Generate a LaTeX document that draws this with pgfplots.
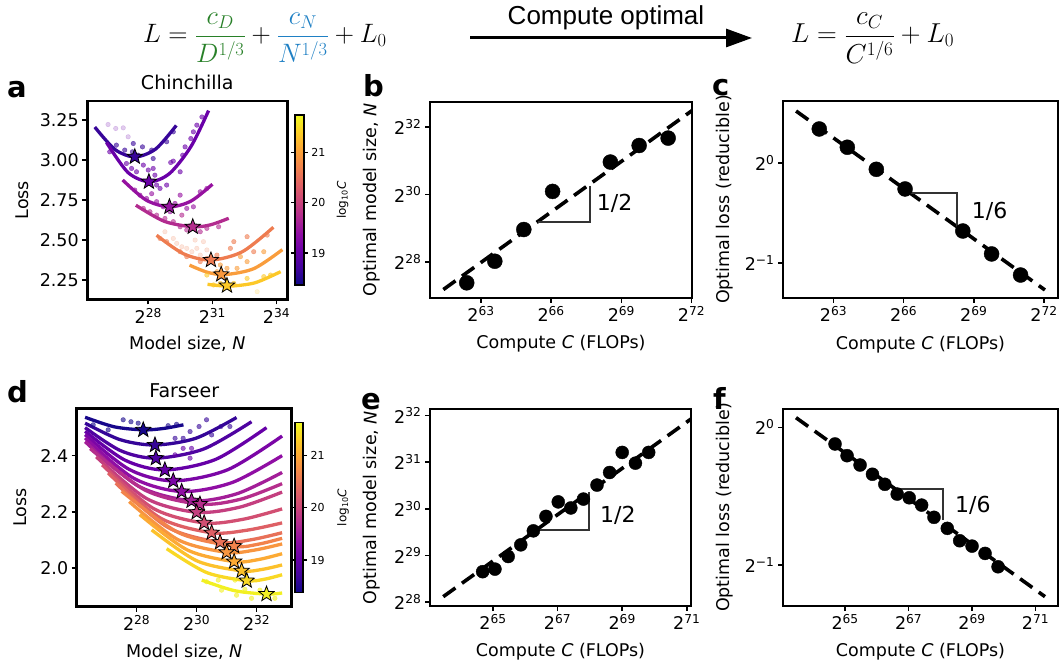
\documentclass[border=0pt]{standalone}
\usepackage{fontspec}
\setmainfont{DejaVu Sans}
\newfontfamily\libsans{Liberation Sans}
\usepackage{pgfplots}
\pgfplotsset{compat=1.18}
\usetikzlibrary{arrows.meta}
\pgfplotsset{/pgf/number format/assume math mode=true}

\definecolor{fgreen}{RGB}{40,128,40}
\definecolor{fblue}{RGB}{31,128,196}
\definecolor{pa1}{RGB}{55,5,153}
\definecolor{pa2}{RGB}{106,0,168}
\definecolor{pa3}{RGB}{150,18,160}
\definecolor{pa4}{RGB}{178,43,143}
\definecolor{pa5}{RGB}{238,124,80}
\definecolor{pa6}{RGB}{249,157,60}
\definecolor{pa7}{RGB}{252,200,40}
\definecolor{dk1}{RGB}{23,7,139}
\definecolor{dk2}{RGB}{53,5,152}
\definecolor{dk3}{RGB}{79,3,161}
\definecolor{dk4}{RGB}{102,0,167}
\definecolor{dk5}{RGB}{123,6,166}
\definecolor{dk6}{RGB}{144,14,164}
\definecolor{dk7}{RGB}{163,30,152}
\definecolor{dk8}{RGB}{181,46,140}
\definecolor{dk9}{RGB}{196,63,127}
\definecolor{dk10}{RGB}{210,79,114}
\definecolor{dk11}{RGB}{222,96,101}
\definecolor{dk12}{RGB}{232,113,89}
\definecolor{dk13}{RGB}{242,131,75}
\definecolor{dk14}{RGB}{248,150,64}
\definecolor{dk15}{RGB}{252,170,52}
\definecolor{dk16}{RGB}{252,193,43}
\definecolor{dk17}{RGB}{249,216,36}
\definecolor{dk18}{RGB}{242,240,33}

\pgfplotsset{colormap={plasma}{rgb255=(13,8,135) rgb255=(65,4,157) rgb255=(106,0,168) rgb255=(143,13,164) rgb255=(177,42,144) rgb255=(204,71,120) rgb255=(225,100,98) rgb255=(242,132,75) rgb255=(252,166,54) rgb255=(252,206,37) rgb255=(240,249,33)}}

\pgfdeclareplotmark{fstar}{%
  \pgfpathmoveto{\pgfpointpolar{90}{\pgfplotmarksize}}%
  \pgfpathlineto{\pgfpointpolar{126}{0.42\pgfplotmarksize}}%
  \pgfpathlineto{\pgfpointpolar{162}{\pgfplotmarksize}}%
  \pgfpathlineto{\pgfpointpolar{198}{0.42\pgfplotmarksize}}%
  \pgfpathlineto{\pgfpointpolar{234}{\pgfplotmarksize}}%
  \pgfpathlineto{\pgfpointpolar{270}{0.42\pgfplotmarksize}}%
  \pgfpathlineto{\pgfpointpolar{306}{\pgfplotmarksize}}%
  \pgfpathlineto{\pgfpointpolar{342}{0.42\pgfplotmarksize}}%
  \pgfpathlineto{\pgfpointpolar{18}{\pgfplotmarksize}}%
  \pgfpathlineto{\pgfpointpolar{54}{0.42\pgfplotmarksize}}%
  \pgfpathclose
  \pgfusepathqfillstroke}

\pgfplotsset{
  panel/.style={scale only axis, anchor=south west, clip=true,
    axis line style={line width=2.6pt}, tick pos=left, tick align=outside,
    major tick length=5pt, major tick style={line width=1.6pt, black},
    tick label style={font=\fontsize{17.5}{17.5}\selectfont},
    label style={font=\fontsize{17.5}{17.5}\selectfont},
    xlabel style={anchor=center}, ylabel style={anchor=center},
    title style={font=\fontsize{19}{19}\selectfont, anchor=base, at={(axis description cs:0.5,1)}}},
  cbar/.style n args={3}{colorbar style={at={(parent axis.east)}, anchor=west, xshift=#1,
    scale only axis, width=#2, height=170pt,
    ytick={19,20,21}, yticklabel style={font=\fontsize{11}{11}\selectfont},
    axis line style={line width=1.6pt}, tick align=outside, major tick length=4pt,
    major tick style={line width=1.2pt, black},
    ylabel={log\textsubscript{10}\textit{C}},
    ylabel style={font=\fontsize{12}{12}\selectfont, at={(axis description cs:#3,0.5)}, anchor=center}}},
  dots/.style={only marks, mark=*, mark size=2.3pt, color=#1, opacity=0.6},
  fdots/.style={only marks, mark=*, mark size=2.3pt, color=#1, opacity=0.2},
  fit/.style={smooth, line width=3.3pt, color=#1},
  stars/.style={scatter, only marks, mark=fstar, mark size=8pt, point meta=explicit,
    scatter/use mapped color={draw=black, fill=mapped color}, mark options={line width=0.8pt}},
  dash/.style={black, line width=3.6pt, dash pattern=on 15pt off 8pt},
  tri/.style={line width=2pt, color=black!80},
}
\newcommand{\fnum}[1]{#1\rule[-4pt]{0pt}{4pt}}
\newcommand{\fden}[1]{\rule{0pt}{24pt}#1}

\begin{document}
\begin{tikzpicture}[x=1pt,y=1pt]
\path[use as bounding box] (0,0) rectangle (1060,667);

% ---------- header ----------
\node[anchor=west, inner sep=0, scale=1.07, font=\fontsize{25}{25}\selectfont] at (143,629)
  {$L = {\color{fgreen}\displaystyle\frac{\fnum{c_D}}{\fden{D^{1/3}}}} + {\color{fblue}\displaystyle\frac{\fnum{c_N}}{\fden{N^{1/3}}}} + L_0$};
\draw[line width=3pt, -{Triangle[length=26pt,width=18pt]}] (470,629) -- (752,629);
\node[font=\libsans\fontsize{26}{26}\selectfont] at (606,649) {Compute optimal};
\node[anchor=west, inner sep=0, scale=1.1, font=\fontsize{25}{25}\selectfont] at (791,629)
  {$L = \displaystyle\frac{\fnum{c_C}}{\fden{C^{1/6}}} + L_0$};

% ---------- panel letters ----------
\node[anchor=base west, inner sep=0, font=\bfseries\fontsize{29}{29}\selectfont] at (7,569) {a};
\node[anchor=base west, inner sep=0, font=\bfseries\fontsize{29}{29}\selectfont] at (363,570) {b};
\node[anchor=base west, inner sep=0, font=\bfseries\fontsize{29}{29}\selectfont] at (712,571) {c};
\node[anchor=base west, inner sep=0, font=\bfseries\fontsize{29}{29}\selectfont] at (7,264) {d};
\node[anchor=base west, inner sep=0, font=\bfseries\fontsize{29}{29}\selectfont] at (361,257) {e};
\node[anchor=base west, inner sep=0, font=\bfseries\fontsize{29}{29}\selectfont] at (713,257) {f};

% ---------- a ----------
\begin{axis}[panel, at={(87.3pt,367.5pt)}, width=200pt, height=198.5pt,
  xmin=25.15, xmax=34.5, ymin=2.128, ymax=3.37,
  xtick={28,31,34}, xticklabels={2\textsuperscript{28},2\textsuperscript{31},2\textsuperscript{34}},
  ytick={2.25,2.5,2.75,3,3.25}, yticklabels={2.25,2.50,2.75,3.00,3.25},
  xlabel={Model size, \textit{N}}, ylabel={Loss},
  xlabel style={at={(axis description cs:0.5,-0.224)}},
  ylabel style={at={(axis description cs:-0.327,0.5)}},
  title={Chinchilla}, title style={yshift=5pt},
  colorbar, colormap name=plasma, point meta min=18.36, point meta max=21.74,
  cbar={-1pt}{9pt}{5.3}]
\addplot[fdots=pa2] coordinates {(26.12,3.223) (26.48,3.198) (26.83,3.202) (27.06,3.146)};
\addplot[fdots=pa5] coordinates {(29.57,2.458) (29.8,2.448) (30.04,2.427) (30.27,2.448) (30.58,2.49) (29.17,2.51) (29.33,2.479) (30.43,2.406) (30.19,2.5) (28.78,2.552) (30.74,2.438)};
\addplot[fdots=pa7] coordinates {(33.09,2.177)};
\addplot[dots=pa1] coordinates {(26.51,3.094) (26.9,3.063) (27.26,3.052) (27.53,3.031) (27.73,3.083) (28.16,3.063) (28.23,3.01) (28.86,3.115) (29.17,3.177) (27.3,3.104)};
\addplot[dots=pa2] coordinates {(26.98,2.979) (27.22,2.948) (27.45,2.927) (27.77,2.969) (28.0,2.938) (28.23,2.948) (28.31,2.906) (28.55,2.823) (28.86,2.844) (29.05,2.985) (29.17,2.994) (29.49,2.927) (29.61,3.031) (29.72,3.083) (29.99,3.135) (30.11,3.177) (30.27,3.219) (30.51,3.27) (28.39,2.844) (26.2,3.052)};
\addplot[dots=pa3] coordinates {(27.37,2.813) (27.61,2.781) (27.92,2.76) (28.16,2.79) (28.39,2.74) (28.7,2.708) (29.02,2.677) (29.25,2.729) (29.49,2.781) (29.8,2.698) (30.11,2.708) (30.43,2.802) (30.74,2.823)};
\addplot[dots=pa4] coordinates {(27.77,2.698) (28.08,2.677) (28.39,2.656) (28.78,2.635) (29.17,2.615) (29.49,2.583) (29.8,2.563) (30.43,2.552) (30.74,2.573) (31.29,2.583) (29.57,2.656)};
\addplot[dots=pa5] coordinates {(28.55,2.51) (28.86,2.49) (29.49,2.427) (29.8,2.396) (30.43,2.365) (30.74,2.385) (31.21,2.406) (31.84,2.448) (32.62,2.521) (32.0,2.49) (32.93,2.427) (33.56,2.531)};
\addplot[dots=pa6] coordinates {(31.37,2.344) (31.68,2.323) (32.15,2.323) (32.62,2.365) (33.4,2.427) (31.21,2.302) (32.31,2.396)};
\addplot[dots=pa7] coordinates {(30.74,2.281) (31.05,2.219) (32.0,2.229) (32.62,2.26) (33.4,2.271) (33.72,2.281) (31.37,2.229)};
\addplot[fit=pa1] coordinates {(25.5,3.207) (26.45,3.066) (27.38,3.02) (28.35,3.07) (29.31,3.217)};
\addplot[fit=pa2] coordinates {(26.05,3.11) (27.05,2.923) (28.05,2.865) (29.0,2.917) (30.0,3.086) (30.82,3.31)};
\addplot[fit=pa3] coordinates {(26.8,2.876) (27.9,2.75) (28.99,2.708) (30.0,2.744) (31.0,2.849)};
\addplot[fit=pa4] coordinates {(27.42,2.718) (28.75,2.617) (30.09,2.583) (30.9,2.595) (31.76,2.636)};
\addplot[fit=pa5] coordinates {(28.39,2.53) (29.65,2.414) (30.93,2.375) (32.4,2.427) (33.85,2.58)};
\addplot[fit=pa6] coordinates {(29.93,2.343) (30.75,2.299) (31.6,2.284) (32.95,2.322) (34.27,2.44)};
\addplot[fit=pa7] coordinates {(30.77,2.223) (31.3,2.215) (31.9,2.212) (33.0,2.233) (34.19,2.302)};
\addplot[stars] table[meta=c] {
x y c
27.37 3.021 18.63
28.03 2.865 19.04
28.99 2.708 19.45
30.08 2.583 19.75
30.93 2.375 20.62
31.41 2.285 20.93
31.68 2.215 21.37
};
\end{axis}

% ---------- b ----------
\begin{axis}[panel, at={(430pt,369pt)}, width=262pt, height=196pt,
  xmin=60.82, xmax=72.02, ymin=26.93, ymax=32.74,
  xtick={63,66,69,72}, xticklabels={2\textsuperscript{63},2\textsuperscript{66},2\textsuperscript{69},2\textsuperscript{72}},
  ytick={28,30,32}, yticklabels={2\textsuperscript{28},2\textsuperscript{30},2\textsuperscript{32}},
  xlabel={Compute \textit{C} (FLOPs)}, ylabel={Optimal model size, \textit{N}},
  xlabel style={at={(axis description cs:0.5,-0.235)}},
  ylabel style={at={(axis description cs:-0.223,0.5)}}]
\addplot[dash] coordinates {(61.39,27.18) (72.07,32.51)};
\addplot[only marks, mark=*, mark size=7.5pt, black] coordinates {(62.39,27.38) (63.59,28.02) (64.83,28.96) (66.06,30.09) (68.53,30.96) (69.76,31.45) (71.00,31.67)};
\addplot[tri] coordinates {(65.45,29.17) (67.66,29.17) (67.66,30.24)};
\node[anchor=west, font=\fontsize{22}{22}\selectfont, inner sep=0] at (axis cs:67.95,29.75) {1/2};
\end{axis}

% ---------- c ----------
\begin{axis}[panel, at={(783pt,369pt)}, width=275pt, height=197pt,
  xmin=60.84, xmax=72.6, ymin=-1.346, ymax=0.618,
  xtick={63,66,69,72}, xticklabels={2\textsuperscript{63},2\textsuperscript{66},2\textsuperscript{69},2\textsuperscript{72}},
  ytick={-1,0}, yticklabels={2\textsuperscript{−1},2\textsuperscript{0}},
  xlabel={Compute \textit{C} (FLOPs)}, ylabel={Optimal loss (reducible)},
  xlabel style={at={(axis description cs:0.5,-0.235)}},
  ylabel style={at={(axis description cs:-0.211,0.5)}}]
\addplot[dash] coordinates {(61.4,0.518) (72.04,-1.266)};
\addplot[only marks, mark=*, mark size=7.5pt, black] coordinates {(62.39,0.339) (63.59,0.157) (64.83,-0.063) (66.06,-0.259) (68.53,-0.678) (69.76,-0.907) (71.00,-1.117)};
\addplot[tri] coordinates {(66.27,-0.302) (68.27,-0.302) (68.27,-0.651)};
\node[anchor=west, font=\fontsize{22}{22}\selectfont, inner sep=0] at (axis cs:68.91,-0.486) {1/6};
\end{axis}

% ---------- d ----------
\begin{axis}[panel, at={(76.7pt,60.3pt)}, width=215pt, height=198.4pt,
  xmin=26.0, xmax=33.17, ymin=1.861, ymax=2.569,
  xtick={28,30,32}, xticklabels={2\textsuperscript{28},2\textsuperscript{30},2\textsuperscript{32}},
  ytick={2.0,2.2,2.4}, yticklabels={2.0,2.2,2.4},
  xlabel={Model size, \textit{N}}, ylabel={Loss},
  xlabel style={at={(axis description cs:0.5,-0.228)}},
  ylabel style={at={(axis description cs:-0.264,0.5)}},
  title={Farseer}, title style={yshift=5pt},
  colorbar, colormap name=plasma, point meta min=18.38, point meta max=21.63,
  cbar={-5.2pt}{8pt}{6.0}]
\addplot[dots=dk1] coordinates {(27.55,2.528) (27.81,2.521) (28.05,2.516) (27.05,2.492) (26.55,2.51) (29.05,2.507) (29.33,2.512)};
\addplot[dots=dk2] coordinates {(29.78,2.486) (30.08,2.504) (30.33,2.528) (30.81,2.504) (31.11,2.504) (30.5,2.474) (29.28,2.462) (29.55,2.462)};
\addplot[dots=dk4] coordinates {(29.55,2.426) (29.83,2.426) (29.78,2.391) (29.28,2.403)};
\addplot[dots=dk18] coordinates {(30.33,1.95) (30.83,1.92) (31.33,1.902) (31.83,1.891) (31.61,1.923) (32.11,1.92) (32.61,1.891) (31.28,1.956) (30.72,1.956)};
\addplot[fit=dk1] coordinates {(26.28,2.537) (27.25,2.503) (28.22,2.492) (28.89,2.497) (29.56,2.51)};
\addplot[fit=dk2] coordinates {(26.28,2.516) (27.45,2.457) (28.61,2.438) (29.97,2.462) (31.33,2.536)};
\addplot[fit=dk3] coordinates {(26.28,2.50) (27.46,2.418) (28.64,2.391) (30.24,2.424) (31.83,2.521)};
\addplot[fit=dk4] coordinates {(26.28,2.487) (27.61,2.384) (28.94,2.349) (30.64,2.387) (32.33,2.50)};
\addplot[fit=dk5] coordinates {(26.28,2.475) (27.75,2.351) (29.22,2.310) (31.04,2.350) (32.85,2.47)};
\addplot[fit=dk6] coordinates {(26.28,2.463) (27.89,2.32) (29.50,2.272) (31.18,2.304) (32.85,2.40)};
\addplot[fit=dk7] coordinates {(26.28,2.45) (28.05,2.292) (29.83,2.239) (31.34,2.264) (32.85,2.34)};
\addplot[fit=dk8] coordinates {(26.45,2.425) (28.28,2.277) (30.11,2.227) (31.48,2.245) (32.85,2.30)};
\addplot[fit=dk9] coordinates {(26.65,2.396) (28.33,2.247) (30.0,2.198) (31.43,2.216) (32.85,2.27)};
\addplot[fit=dk10] coordinates {(26.85,2.367) (28.55,2.212) (30.25,2.160) (31.55,2.173) (32.85,2.21)};
\addplot[fit=dk11] coordinates {(27.05,2.338) (28.78,2.178) (30.5,2.125) (31.68,2.134) (32.85,2.16)};
\addplot[fit=dk12] coordinates {(27.3,2.302) (29.04,2.144) (30.78,2.091) (31.82,2.100) (32.85,2.125)};
\addplot[fit=dk13] coordinates {(27.5,2.273) (29.38,2.126) (31.25,2.077) (32.05,2.084) (32.85,2.105)};
\addplot[fit=dk14] coordinates {(27.75,2.236) (29.38,2.10) (31.0,2.055) (31.93,2.063) (32.85,2.085)};
\addplot[fit=dk15] coordinates {(28.1,2.19) (29.68,2.064) (31.25,2.022) (32.05,2.029) (32.85,2.05)};
\addplot[fit=dk16] coordinates {(28.5,2.135) (30.0,2.025) (31.5,1.989) (32.18,1.994) (32.85,2.01)};
\addplot[fit=dk17] coordinates {(29.0,2.068) (30.33,1.983) (31.67,1.954) (32.26,1.959) (32.85,1.975)};
\addplot[fit=dk18] coordinates {(30.17,1.956) (31.25,1.9185) (32.33,1.906) (32.85,1.91)};
\addplot[stars] table[meta=c] {
x y c
28.22 2.492 18.445
28.61 2.438 18.629
28.64 2.391 18.812
28.94 2.349 18.996
29.22 2.310 19.18
29.50 2.272 19.363
29.83 2.239 19.547
30.11 2.227 19.73
30.00 2.198 19.914
30.25 2.160 20.098
30.50 2.125 20.281
30.78 2.091 20.465
31.25 2.077 20.649
31.00 2.055 20.832
31.25 2.022 21.016
31.50 1.989 21.199
31.67 1.954 21.383
32.33 1.906 21.567
};
\end{axis}

% ---------- e ----------
\begin{axis}[panel, at={(430pt,61pt)}, width=261pt, height=197pt,
  xmin=63.05, xmax=71.13, ymin=27.92, ymax=32.14,
  xtick={65,67,69,71}, xticklabels={2\textsuperscript{65},2\textsuperscript{67},2\textsuperscript{69},2\textsuperscript{71}},
  ytick={28,29,30,31,32}, yticklabels={2\textsuperscript{28},2\textsuperscript{29},2\textsuperscript{30},2\textsuperscript{31},2\textsuperscript{32}},
  xlabel={Compute \textit{C} (FLOPs)}, ylabel={Optimal model size, \textit{N}},
  xlabel style={at={(axis description cs:0.5,-0.234)}},
  ylabel style={at={(axis description cs:-0.223,0.5)}}]
\addplot[dash] coordinates {(63.46,28.12) (71.2,31.96)};
\addplot[only marks, mark=*, mark size=6.5pt, black] coordinates {(64.68,28.655) (65.06,28.71) (65.47,28.98) (65.86,29.23) (66.25,29.53) (66.64,29.84) (67.02,30.15) (67.41,30.02) (67.80,30.21) (68.22,30.51) (68.61,30.78) (69.00,31.21) (69.41,30.98) (69.82,31.21)};
\addplot[tri] coordinates {(66.35,29.55) (67.98,29.55) (67.98,30.36)};
\node[anchor=west, font=\fontsize{22}{22}\selectfont, inner sep=0] at (axis cs:68.31,29.87) {1/2};
\end{axis}

% ---------- f ----------
\begin{axis}[panel, at={(783pt,61pt)}, width=275pt, height=197pt,
  xmin=63.04, xmax=71.71, ymin=-1.298, ymax=0.133,
  xtick={65,67,69,71}, xticklabels={2\textsuperscript{65},2\textsuperscript{67},2\textsuperscript{69},2\textsuperscript{71}},
  ytick={-1,0}, yticklabels={2\textsuperscript{−1},2\textsuperscript{0}},
  xlabel={Compute \textit{C} (FLOPs)}, ylabel={Optimal loss (reducible)},
  xlabel style={at={(axis description cs:0.5,-0.234)}},
  ylabel style={at={(axis description cs:-0.211,0.5)}}]
\addplot[dash] coordinates {(63.45,0.07) (71.3,-1.23)};
\addplot[only marks, mark=*, mark size=6.5pt, black] coordinates {(64.68,-0.121) (65.06,-0.206) (65.47,-0.274) (65.86,-0.341) (66.25,-0.414) (66.64,-0.485) (67.02,-0.512) (67.41,-0.565) (67.80,-0.654) (68.22,-0.734) (68.61,-0.824) (69.00,-0.863) (69.41,-0.916) (69.82,-1.013)};
\addplot[tri] coordinates {(66.63,-0.448) (68.07,-0.448) (68.07,-0.673)};
\node[anchor=west, font=\fontsize{22}{22}\selectfont, inner sep=0] at (axis cs:68.46,-0.564) {1/6};
\end{axis}
\end{tikzpicture}
\end{document}
